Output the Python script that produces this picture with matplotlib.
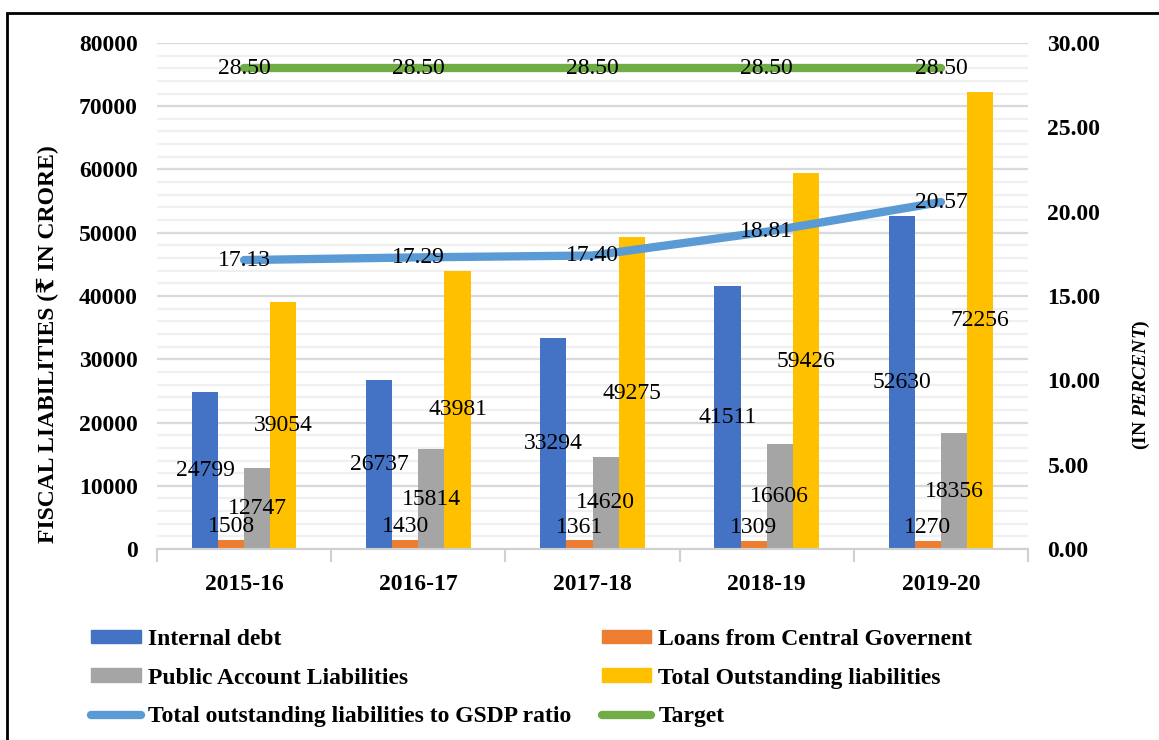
import matplotlib.pyplot as plt
import matplotlib.patches as mpatches
from matplotlib.lines import Line2D
from matplotlib.ticker import MultipleLocator, FormatStrFormatter
import numpy as np

plt.rcParams["font.family"] = ["Liberation Serif", "DejaVu Serif", "DejaVu Sans"]
plt.rcParams["mathtext.fontset"] = "custom"
plt.rcParams["mathtext.it"] = "Liberation Serif:italic:bold"
plt.rcParams["mathtext.rm"] = "Liberation Serif:bold"

# data
years = ["2015-16", "2016-17", "2017-18", "2018-19", "2019-20"]
internal_debt = [24799, 26737, 33294, 41511, 52630]
central_loans = [1508, 1430, 1361, 1309, 1270]
public_account = [12747, 15814, 14620, 16606, 18356]
total_outstanding = [39054, 43981, 49275, 59426, 72256]
gsdp_ratio = [17.13, 17.29, 17.40, 18.81, 20.57]
target = [28.50, 28.50, 28.50, 28.50, 28.50]

C_BLUE = "#4472C4"
C_ORANGE = "#ED7D31"
C_GRAY = "#A5A5A5"
C_YELLOW = "#FFC000"
C_RATIO = "#5B9BD5"
C_TARGET = "#70AD47"

fig = plt.figure(figsize=(11.59, 7.40), dpi=100)
ax = fig.add_axes([0.1355, 0.258, 0.7515, 0.684])
ax2 = ax.twinx()

x = np.arange(len(years))
w = 0.15
series = [
    (internal_debt, C_BLUE),
    (central_loans, C_ORANGE),
    (public_account, C_GRAY),
    (total_outstanding, C_YELLOW),
]
for k, (vals, col) in enumerate(series):
    xs = x + (k - 1.5) * w
    ax.bar(xs, vals, width=w, color=col, zorder=2, linewidth=0)
    for xi, v in zip(xs, vals):
        if col == C_ORANGE:
            # too small to hold its label, so it sits just above the bar
            ax.annotate(f"{v}", xy=(xi, v), xytext=(0, 2), textcoords="offset points",
                        ha="center", va="bottom", fontsize=17, zorder=6)
        else:
            ax.text(xi, v / 2, f"{v}", ha="center", va="center", fontsize=17, zorder=6)

ax.set_xlim(-0.5, len(years) - 0.5)
ax.set_ylim(0, 80000)
ax.yaxis.set_major_locator(MultipleLocator(10000))
ax.yaxis.set_minor_locator(MultipleLocator(2000))
ax.grid(axis="y", which="major", color="#d9d9d9", linewidth=1.6, zorder=0)
ax.grid(axis="y", which="minor", color="#f0f0f0", linewidth=1.6, zorder=0)
ax.set_axisbelow(True)

ax.set_xticks(x)
ax.set_xticklabels(years, fontsize=17, fontweight="bold")
ax.set_xticks(np.arange(-0.5, len(years)), minor=True)
ax.tick_params(axis="x", which="major", length=0, pad=18)
ax.tick_params(axis="x", which="minor", length=9, color="#d0d0d0", width=1.5)
ax.tick_params(axis="y", which="both", length=0, pad=14)
for t in ax.get_yticklabels():
    t.set_fontsize(17)
    t.set_fontweight("bold")

for s in ["top", "right", "left"]:
    ax.spines[s].set_visible(False)
    ax2.spines[s].set_visible(False)
ax2.spines["bottom"].set_visible(False)
ax.spines["bottom"].set_color("#d0d0d0")
ax.spines["bottom"].set_linewidth(1.5)

ax.set_ylabel("FISCAL LIABILITIES (₹ IN CRORE)", fontsize=17, fontweight="bold")
ax.yaxis.set_label_coords(-0.112, 0.405)

# secondary axis lines
ax2.plot(x, gsdp_ratio, color=C_RATIO, lw=6, solid_capstyle="round", zorder=4)
ax2.plot(x, target, color=C_TARGET, lw=6, solid_capstyle="round", zorder=4)
for xi, v in zip(x, gsdp_ratio):
    ax2.text(xi, v, f"{v:.2f}", ha="center", va="center", fontsize=17, zorder=6)
for xi, v in zip(x, target):
    ax2.text(xi, v, f"{v:.2f}", ha="center", va="center", fontsize=17, zorder=6)
ax2.set_ylim(0, 30)
ax2.yaxis.set_major_locator(MultipleLocator(5))
ax2.yaxis.set_major_formatter(FormatStrFormatter("%.2f"))
ax2.tick_params(axis="y", length=0, pad=14)
for t in ax2.get_yticklabels():
    t.set_fontsize(17)
    t.set_fontweight("bold")
ax2.set_ylabel(r"(IN $\mathit{PERCENT}$)", fontsize=14, fontweight="bold")
ax2.yaxis.set_label_coords(1.118, 0.324)

# legend (row-major order with 2 columns)
h_id = mpatches.Patch(color=C_BLUE, label="Internal debt")
h_lo = mpatches.Patch(color=C_ORANGE, label="Loans from Central Governent")
h_pa = mpatches.Patch(color=C_GRAY, label="Public Account Liabilities")
h_to = mpatches.Patch(color=C_YELLOW, label="Total Outstanding liabilities")
h_ra = Line2D([0], [0], color=C_RATIO, lw=6, solid_capstyle="round",
              label="Total outstanding liabilities to GSDP ratio")
h_ta = Line2D([0], [0], color=C_TARGET, lw=6, solid_capstyle="round", label="Target")
fig.legend(handles=[h_id, h_pa, h_ra, h_lo, h_to, h_ta], ncol=2,
           loc="upper left", bbox_to_anchor=(0.0705, 0.163),
           frameon=False, prop={"size": 17, "weight": "bold"},
           handlelength=2.1, handleheight=0.5, handletextpad=0.3,
           columnspacing=1.3, labelspacing=0.75, borderaxespad=0)

# outer frame
fig.patches.append(mpatches.Rectangle((7 / 1159, -0.05), 1.05, 1.05 - 13 / 740,
                                      transform=fig.transFigure, fill=False,
                                      edgecolor="black", linewidth=2))

fig.savefig("out.png", dpi=100)
